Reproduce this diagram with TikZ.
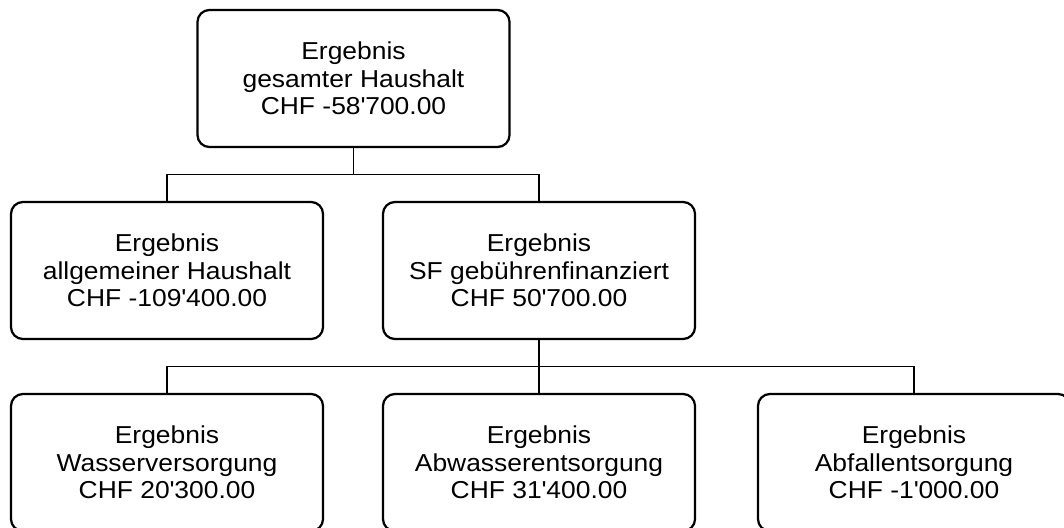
\documentclass[tikz,border=0pt]{standalone}
\usepackage{fontspec}
\setmainfont{Liberation Sans}[FakeStretch=1.08]
\newcommand{\apos}{\textquotesingle}

\begin{document}
\begin{tikzpicture}[x=0.025cm, y=-0.025cm,
    box/.style={draw, line width=1.6pt, rounded corners=0.3cm,
        minimum width=7.8cm, minimum height=3.425cm, inner sep=0pt,
        align=center, font=\fontsize{17.4}{19.6}\selectfont},
    link/.style={line width=1.3pt}]
    % Fix the page to the size of the reference
    \useasboundingbox (0,0) rectangle (1064,527);

    % Result of the whole budget
    \node[box] (total) at (353.5,78.5) {Ergebnis\\gesamter Haushalt\\CHF -58\apos700.00};

    % Second row
    \node[box] (general) at (167,270.5) {Ergebnis\\allgemeiner Haushalt\\CHF -109\apos400.00};
    \node[box] (fees) at (539,270.5) {Ergebnis\\SF gebührenfinanziert\\CHF 50\apos700.00};

    % Third row (cut off at the lower and right edge)
    \node[box] (water) at (167,462.5) {Ergebnis\\Wasserversorgung\\CHF 20\apos300.00};
    \node[box] (sewage) at (539,462.5) {Ergebnis\\Abwasserentsorgung\\CHF 31\apos400.00};
    \node[box] (waste) at (914,462.5) {Ergebnis\\Abfallentsorgung\\CHF -1\apos000.00};

    % Levels of the horizontal lines
    \coordinate (busA) at (0,174.5);
    \coordinate (busB) at (0,366.5);

    % Draw the connectors
    \draw[link] (total.south) -- (total.south |- busA) -| (general.north);
    \draw[link] (total.south |- busA) -| (fees.north);
    \foreach \child in {water, sewage, waste} {
        \draw[link] (fees.south) -- (fees.south |- busB) -| (\child.north);
    }
\end{tikzpicture}
\end{document}
